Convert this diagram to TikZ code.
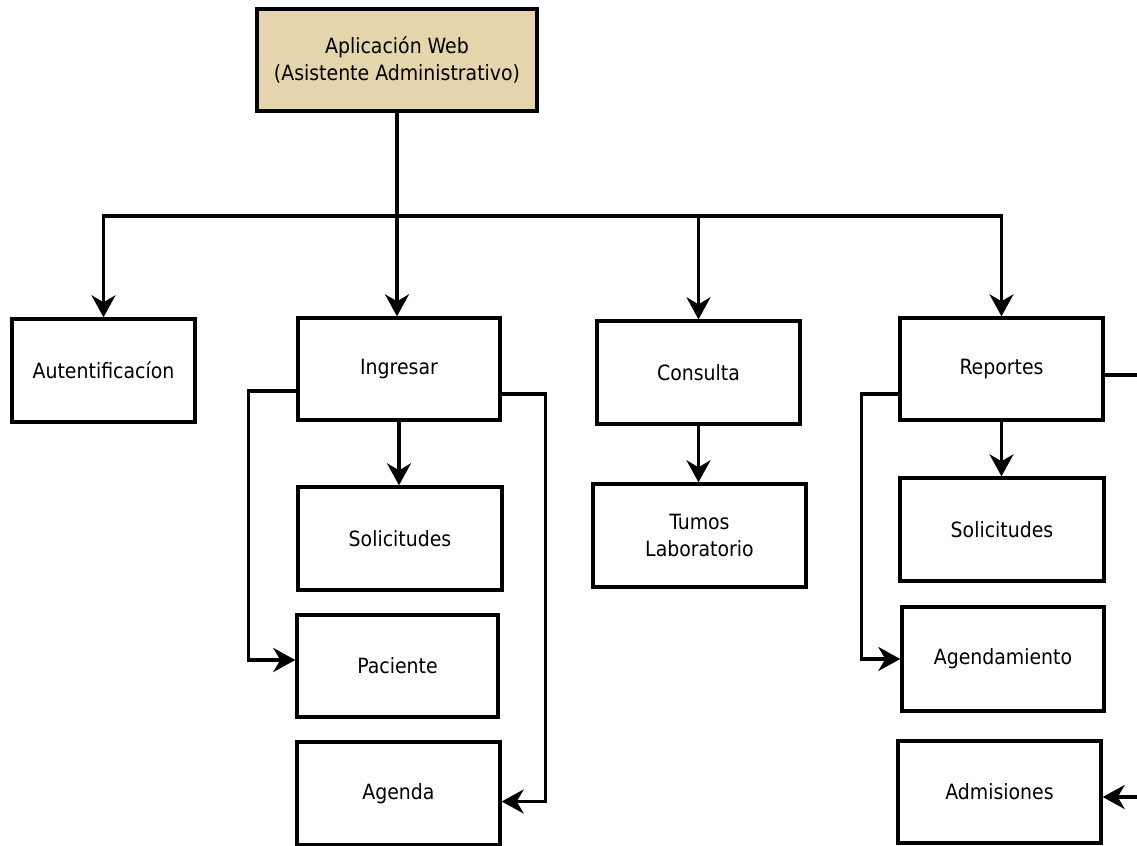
\documentclass[tikz,border=0pt]{standalone}
\usepackage{fontspec}
\setmainfont{DejaVu Sans Condensed}
\usepackage{tikz}
\usetikzlibrary{positioning,arrows.meta}
\definecolor{mytan}{RGB}{228,213,172}
\tikzset{
  sitemappic/.style={
    x=0.5pt,y=-0.5pt
    ,font=\fontsize{10.5}{13.5}\selectfont
  }
  ,module/.style={
    draw=black, line width=1.7pt,
    fill=white,
    align=center,
    inner sep=0pt
  }
  ,rootmod/.style={module,fill=mytan,line width=2.2pt}
  ,wire/.style={line width=1.6pt}
  ,arr/.style={wire,-{Stealth[length=11pt,width=12pt,inset=3.5pt]}}
}
\newcommand\modbox[5]{
\node[module,minimum width=#3*0.5pt,minimum height=#4*0.5pt] (#1) at (#2) {#5};
}

\begin{document}
\begin{tikzpicture}[sitemappic]
    \useasboundingbox (0,0) rectangle (1137,846);
    % root
    \node[rootmod,minimum width=140pt,minimum height=51pt] (web) at (397,60)
      {Aplicación Web\\(Asistente Administrativo)};
    % first level
    \modbox{auth}{103.5,370.5}{183}{103}{Autentificacíon}
    \modbox{ingresar}{399,369}{202}{102}{Ingresar}
    \modbox{consulta}{698.5,372.5}{203}{103}{Consulta}
    \modbox{reportes}{1001.5,369}{203}{102}{Reportes}
    % under Ingresar
    \modbox{solic}{400,538.5}{204}{103}{Solicitudes}
    \modbox{paciente}{397.5,666}{201}{102}{Paciente}
    \modbox{agenda}{398.5,793.5}{203}{103}{Agenda}
    % under Consulta
    \modbox{turnos}{699.5,535.5}{213}{103}{Tumos\\Laboratorio}
    % under Reportes
    \modbox{repsolic}{1002,529.5}{204}{103}{Solicitudes}
    \modbox{agendam}{1003,659}{202}{104}{Agendamiento}
    \modbox{admis}{999.5,792}{203}{102}{Admisiones}
    \coordinate (bus) at (398,216);
    \coordinate (edge) at (1137,0);

    % bus
    \draw[arr] (web.south |- bus) -| (auth.north);
    \draw[arr] (web.south |- bus) -| (reportes.north);
    \draw[arr] (web.south) -- (web.south |- ingresar.north);
    \draw[arr] (consulta.north |- bus) -- (consulta.north);

    % Ingresar
    \draw[arr] (ingresar.south) -- (ingresar.south |- solic.north);
    \draw[arr] ([yshift=-11pt]ingresar.west) -- ++(-24pt,0)
      |- ([yshift=3pt]paciente.west);
    \draw[arr] ([yshift=-12.5pt]ingresar.east) -- ++(22pt,0)
      |- ([yshift=-4pt]agenda.east);

    % Consulta
    \draw[arr] (consulta.south) -- (consulta.south |- turnos.north);

    % Reportes
    \draw[arr] (reportes.south) -- (reportes.south |- repsolic.north);
    \draw[arr] ([yshift=-12.5pt]reportes.west) -- ++(-18.5pt,0)
      |- (agendam.west);
    \draw[wire] ([yshift=-3pt]reportes.east) -- ([yshift=-3pt]reportes.east -| edge);
    \draw[arr] ([yshift=-2.5pt]admis.east -| edge) -- ([yshift=-2.5pt]admis.east);
  \end{tikzpicture}
\end{document}
